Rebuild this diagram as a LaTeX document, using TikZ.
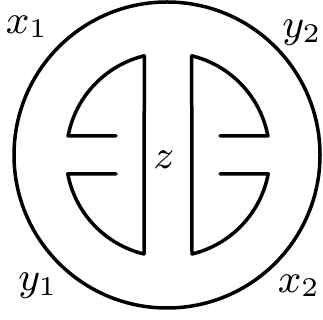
\documentclass[tikz,border=0pt]{standalone}
\usepackage{amsmath,amssymb}
\usepackage{graphicx}
\usepackage{tikz}
\tikzset{
  ringline/.style={line width=3.5pt,line cap=round,line join=round},
  cornerlabel/.style={inner sep=0pt},
  every picture/.style={font=\small}
}
\newcommand{\biglabel}[1]{\scalebox{4.5}{$#1$}}

\begin{document}
\begin{tikzpicture}[x=1pt,y=1pt]
  \useasboundingbox (0,0) rectangle (323,320);
  % outer ring
  \draw[ringline] (167,165) circle (153);
  % left half
  \draw[ringline] (116,184)--(68.1,184)
    arc[start angle=169.3,end angle=103.6,radius=102]--(144,66)
    arc[start angle=256.4,end angle=190.7,radius=102]--(116,146);
  % right half
  \draw[ringline] (220,184)--(267.9,184)
    arc[start angle=10.7,end angle=76.4,radius=102]--(192,66)
    arc[start angle=283.6,end angle=349.3,radius=102]--(220,146);
  \node[cornerlabel] (x1) at (27,293) {\biglabel{x_1}};
  \node[cornerlabel] (y2) at (302,287) {\biglabel{y_2}};
  \node[cornerlabel] (y1) at (38,34) {\biglabel{y_1}};
  \node[cornerlabel] (x2) at (299,34) {\biglabel{x_2}};
  \node[cornerlabel] (z) at (164,160) {\biglabel{z}};
\end{tikzpicture}
\end{document}
